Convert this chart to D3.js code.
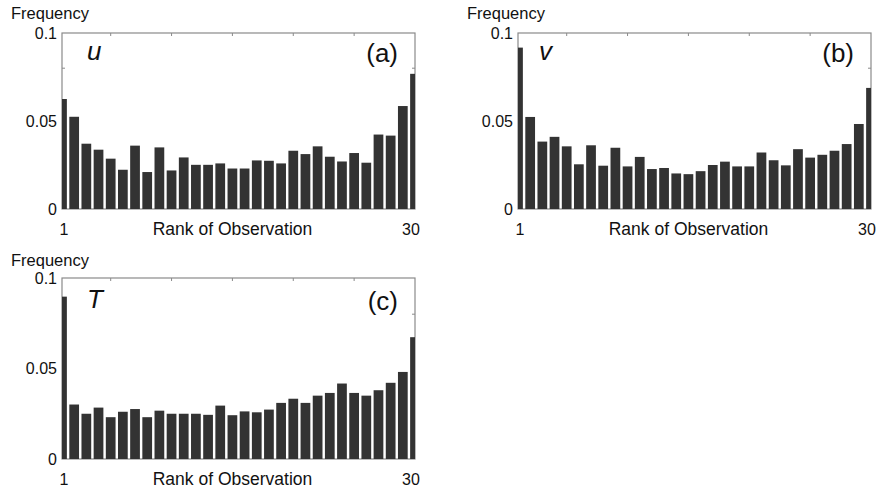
<!DOCTYPE html>
<html>
<head>
<meta charset="utf-8">
<script src="https://cdn.jsdelivr.net/npm/d3@7"></script>
<style>
  body { margin: 0; background: #fff; }
  text { font-family: "Liberation Sans", Arial, sans-serif; fill: #111; }
</style>
</head>
<body>
<script>
const width = 878;
const height = 490;

const ranks = d3.range(1, 31);

const uFreq = [0.0625, 0.0524, 0.0371, 0.0337, 0.0286, 0.0223, 0.036, 0.021, 0.035, 0.0219,
  0.0293, 0.0251, 0.0251, 0.0259, 0.023, 0.023, 0.0276, 0.0274, 0.0259, 0.0331,
  0.0312, 0.0356, 0.0297, 0.027, 0.0318, 0.0263, 0.0423, 0.0417, 0.0585, 0.0768];

const vFreq = [0.0917, 0.0523, 0.0383, 0.041, 0.0356, 0.0254, 0.0362, 0.0246, 0.0348, 0.0242,
  0.0296, 0.0227, 0.0233, 0.0202, 0.0198, 0.0215, 0.025, 0.0269, 0.0242, 0.0242,
  0.0321, 0.0277, 0.0248, 0.034, 0.0292, 0.0308, 0.0331, 0.0369, 0.0483, 0.0688];

const tFreq = [0.0897, 0.0301, 0.025, 0.0284, 0.0231, 0.0261, 0.0276, 0.0231, 0.0267, 0.025,
  0.025, 0.025, 0.0244, 0.0295, 0.0242, 0.0263, 0.0258, 0.0273, 0.031, 0.0333,
  0.031, 0.035, 0.0365, 0.0417, 0.0365, 0.035, 0.038, 0.0421, 0.0481, 0.0673];

const yLabels = [0, 0.05, 0.1];
const yMinor = [0.02, 0.04, 0.06, 0.08];
const xMinor = [5, 10, 15, 20, 25];
const xLabels = [1, 30];

const panels = [
  { values: uFreq, varName: 'u', tag: '(a)', x0: 62, x1: 415, y0: 33, y1: 209, dy: 0 },
  { values: vFreq, varName: 'v', tag: '(b)', x0: 518, x1: 871, y0: 33, y1: 209, dy: 0 },
  { values: tFreq, varName: 'T', tag: '(c)', x0: 62, x1: 415, y0: 278, y1: 459, dy: 3 }
];

const svg = d3.select('body').append('svg')
  .attr('width', width)
  .attr('height', height);

panels.forEach((p, i) => {
  const x = d3.scaleLinear().domain([1, 30]).range([p.x0, p.x1]);
  const y = d3.scaleLinear().domain([0, 0.1]).range([p.y1, p.y0]);
  const step = x(2) - x(1);
  const bw = step * 0.8;

  const g = svg.append('g');

  g.append('clipPath').attr('id', 'clip' + i)
    .append('rect')
    .attr('x', p.x0).attr('y', p.y0)
    .attr('width', p.x1 - p.x0).attr('height', p.y1 - p.y0);

  // frame
  g.append('rect')
    .attr('x', p.x0).attr('y', p.y0)
    .attr('width', p.x1 - p.x0).attr('height', p.y1 - p.y0)
    .attr('fill', 'none')
    .attr('stroke', '#8a8a8a')
    .attr('stroke-width', 1.2);

  // inward ticks, all four sides
  const tl = 3;
  yMinor.forEach(v => {
    g.append('line').attr('x1', p.x0).attr('x2', p.x0 + tl)
      .attr('y1', y(v)).attr('y2', y(v)).attr('stroke', '#8a8a8a');
    g.append('line').attr('x1', p.x1).attr('x2', p.x1 - tl)
      .attr('y1', y(v)).attr('y2', y(v)).attr('stroke', '#8a8a8a');
  });
  xMinor.forEach(v => {
    g.append('line').attr('x1', x(v)).attr('x2', x(v))
      .attr('y1', p.y0).attr('y2', p.y0 + tl).attr('stroke', '#8a8a8a');
    g.append('line').attr('x1', x(v)).attr('x2', x(v))
      .attr('y1', p.y1).attr('y2', p.y1 - tl).attr('stroke', '#8a8a8a');
  });

  // bars (first/last clipped in half by the x limits)
  g.append('g')
    .attr('clip-path', 'url(#clip' + i + ')')
    .selectAll('rect')
    .data(p.values)
    .join('rect')
    .attr('x', (d, j) => x(ranks[j]) - bw / 2)
    .attr('width', bw)
    .attr('y', d => y(d))
    .attr('height', d => y(0) - y(d))
    .attr('fill', '#333333');

  // y tick labels
  g.selectAll('.ylab')
    .data(yLabels)
    .join('text')
    .attr('x', p.x0 - 5)
    .attr('y', d => y(d))
    .attr('dy', '0.36em')
    .attr('text-anchor', 'end')
    .attr('font-size', 16)
    .text(d => d === 0 ? '0' : String(d));

  // x tick labels
  g.selectAll('.xlab')
    .data(xLabels)
    .join('text')
    .attr('x', d => x(d) + (d === 1 ? 2 : -4))
    .attr('y', p.y1 + 26)
    .attr('text-anchor', 'middle')
    .attr('font-size', 16)
    .text(d => d);

  g.append('text')
    .attr('x', (p.x0 + p.x1) / 2 - 6)
    .attr('y', p.y1 + 26)
    .attr('text-anchor', 'middle')
    .attr('font-size', 17.5)
    .text('Rank of Observation');

  g.append('text')
    .attr('x', p.x0 - 51)
    .attr('y', p.y0 - 14 + p.dy / 2)
    .attr('font-size', 16.5)
    .text('Frequency');

  g.append('text')
    .attr('x', p.x0 + (p.varName === 'v' ? 21 : 25))
    .attr('y', p.y0 + 27 + p.dy)
    .attr('font-size', 26)
    .attr('font-style', 'italic')
    .text(p.varName);

  g.append('text')
    .attr('x', p.x1 - 17)
    .attr('y', p.y0 + 29 + p.dy)
    .attr('text-anchor', 'end')
    .attr('font-size', 26)
    .text(p.tag);
});
</script>
</body>
</html>
